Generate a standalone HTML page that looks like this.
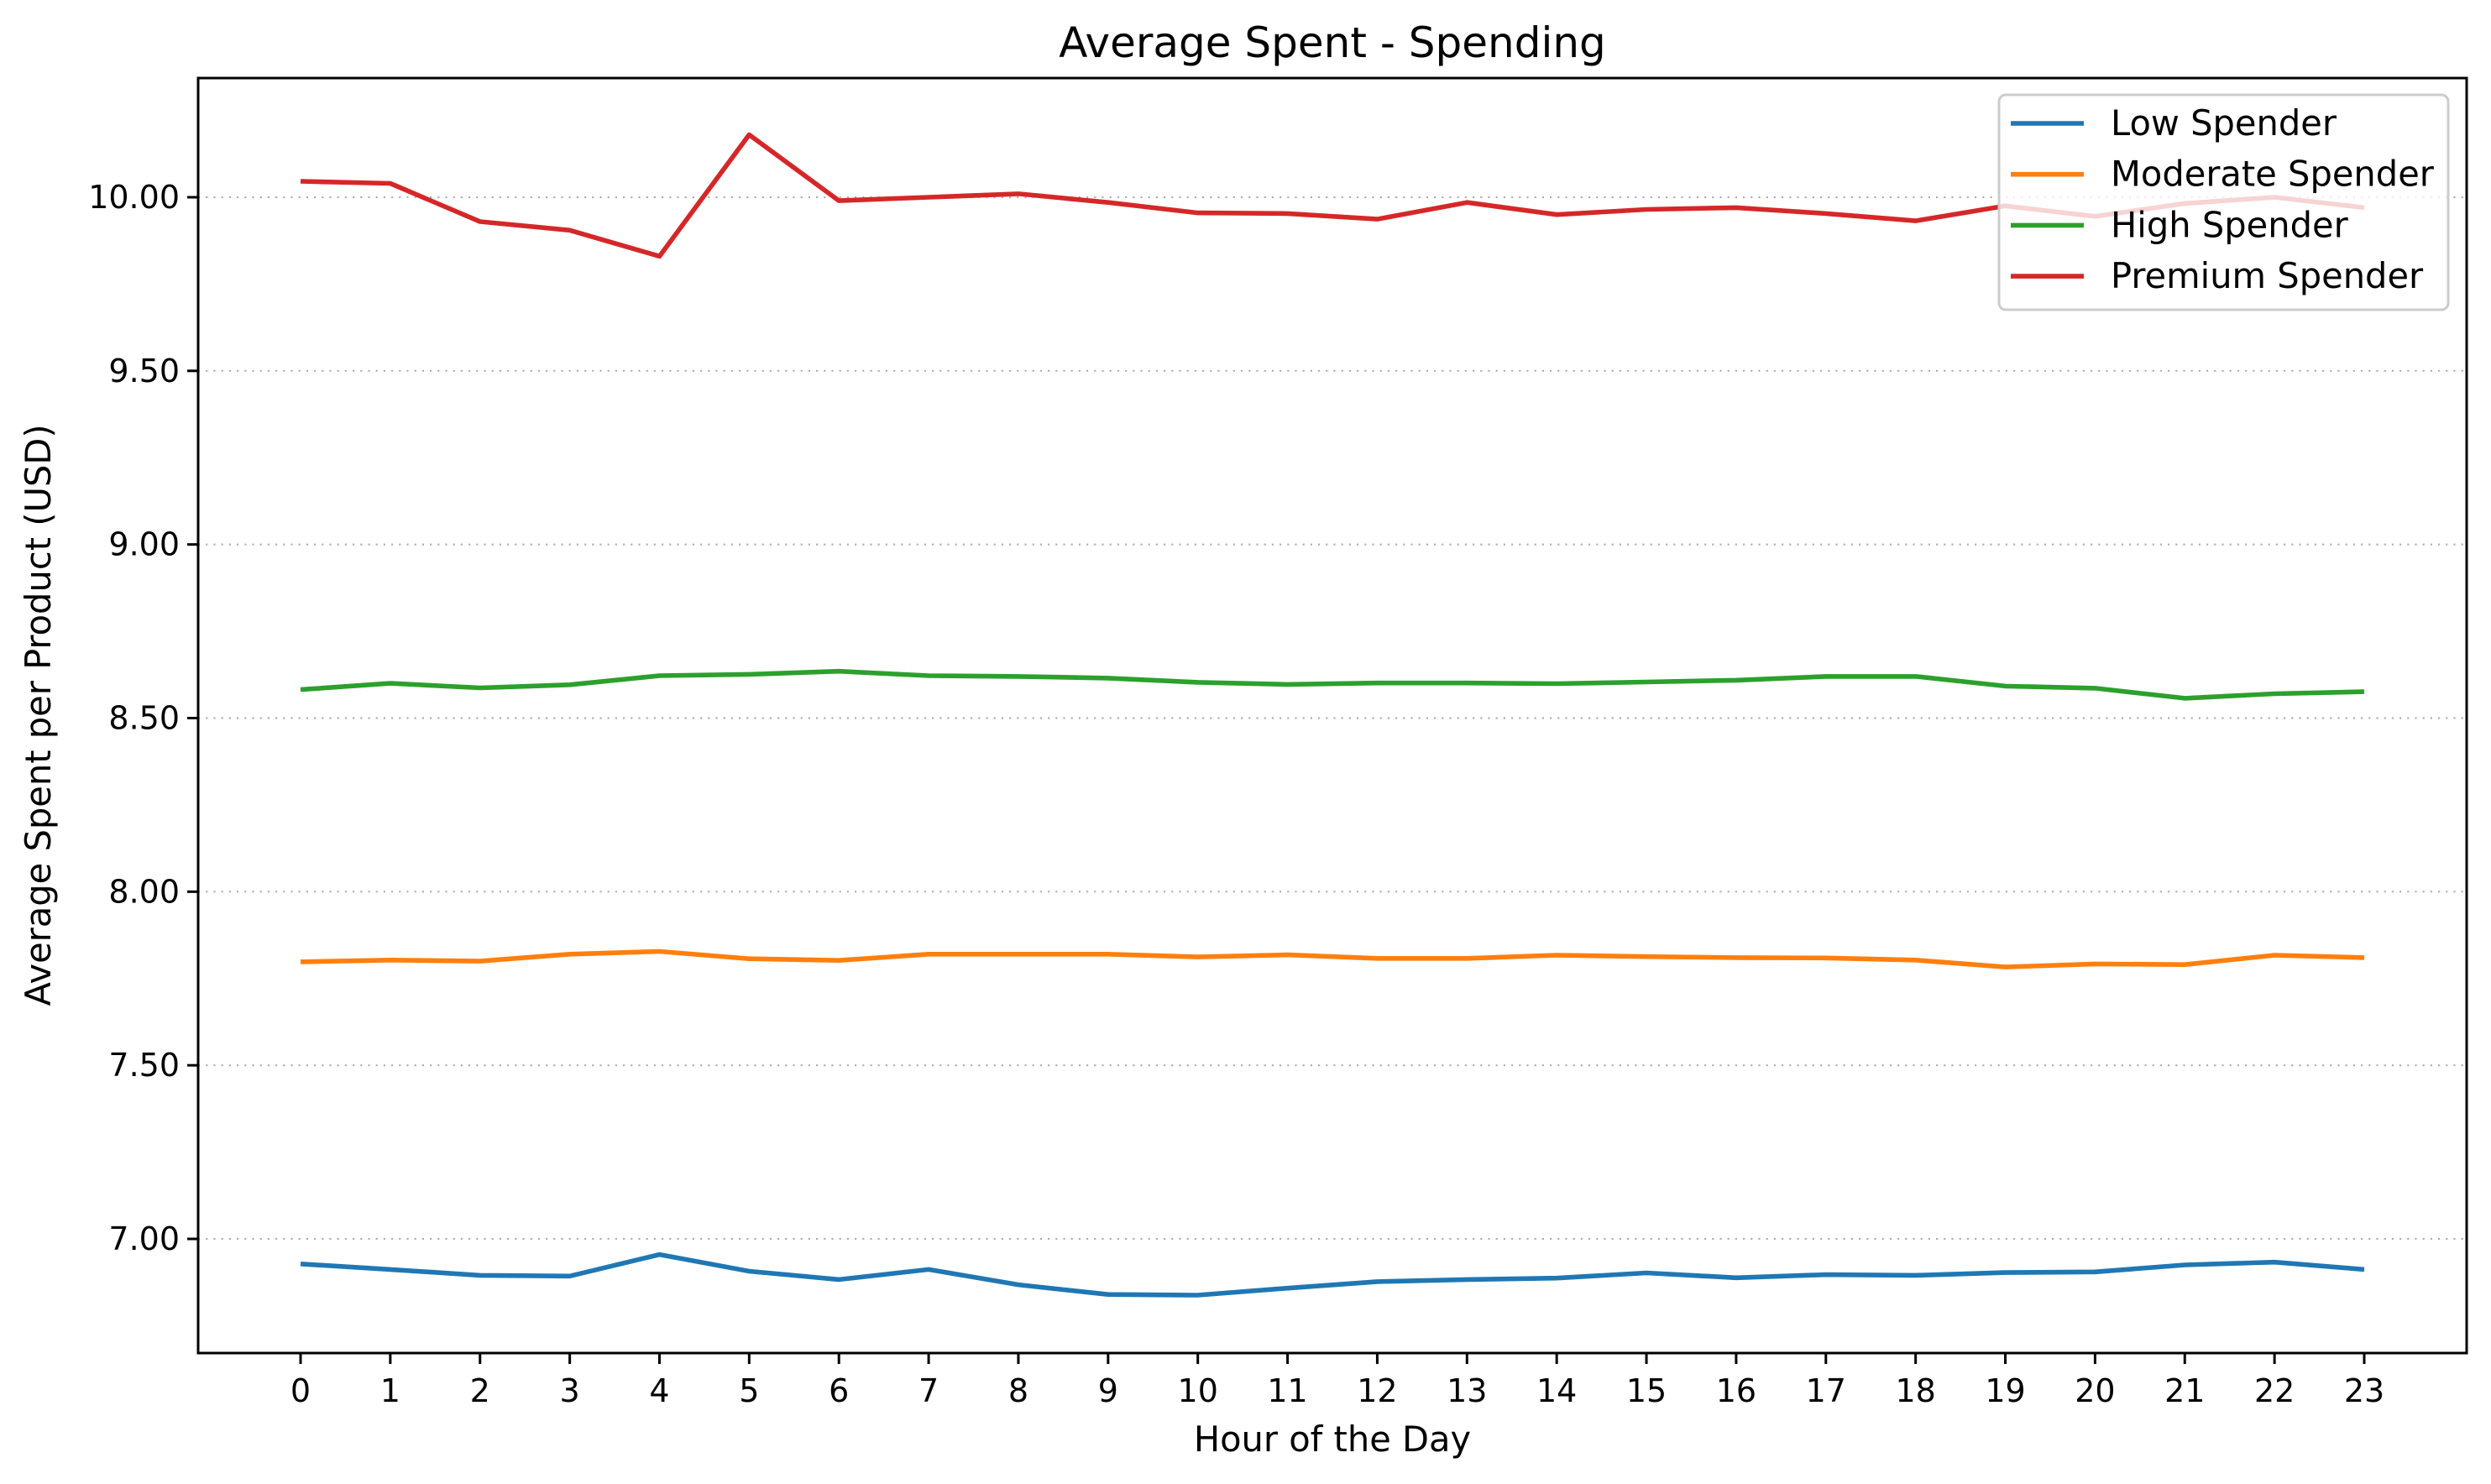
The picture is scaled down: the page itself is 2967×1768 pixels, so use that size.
<!DOCTYPE html>
<html><head><meta charset="utf-8"><style>
html,body{margin:0;padding:0;background:#fff;}
svg{display:block;font-family:"DejaVu Sans","Liberation Sans",sans-serif;}
</style></head><body>
<svg id="chart" width="2967" height="1768" viewBox="0 0 2967 1768" xmlns="http://www.w3.org/2000/svg">
<rect width="2967" height="1768" fill="#fff"/>
<text x="1587" y="68" font-size="50" text-anchor="middle">Average Spent - Spending</text>
<text x="1587" y="1729" font-size="41.6" text-anchor="middle">Hour of the Day</text>
<text transform="translate(60,852) rotate(-90)" font-size="41.6" text-anchor="middle">Average Spent per Product (USD)</text>
<g id="grid"></g><g id="series"></g><g id="axes"></g><g id="legend"></g>
</svg>
<script>
const hours=[0,1,2,3,4,5,6,7,8,9,10,11,12,13,14,15,16,17,18,19,20,21,22,23];
const seriesNames=["Low Spender","Moderate Spender","High Spender","Premium Spender"];
const seriesColors=["#1f77b4","#ff7f0e","#2ca02c","#d62728"];
const lowValues=[6.928,6.912,6.895,6.893,6.955,6.907,6.883,6.912,6.868,6.840,6.838,6.858,6.877,6.883,6.887,6.902,6.888,6.897,6.895,6.903,6.905,6.925,6.933,6.912];
const moderateValues=[7.798,7.803,7.800,7.820,7.828,7.807,7.802,7.820,7.820,7.820,7.812,7.818,7.808,7.808,7.817,7.813,7.810,7.809,7.803,7.783,7.792,7.790,7.817,7.810];
const highValues=[8.582,8.600,8.587,8.596,8.622,8.626,8.635,8.622,8.620,8.615,8.603,8.597,8.601,8.601,8.599,8.604,8.609,8.620,8.620,8.592,8.586,8.557,8.570,8.576];
const premiumValues=[10.046,10.040,9.930,9.905,9.830,10.180,9.990,10.000,10.010,9.985,9.955,9.953,9.937,9.985,9.950,9.965,9.970,9.953,9.932,9.975,9.945,9.982,10.000,9.970];
const yTicks=[7.0,7.5,8.0,8.5,9.0,9.5,10.0];
const yTickLabels=["7.00","7.50","8.00","8.50","9.00","9.50","10.00"];

const NS="http://www.w3.org/2000/svg";
const L=236,R=2938,T=93,B=1612;
function xs(v){return 358+(v-0)*(2816-358)/23;}
function ys(v){return 1476-(v-7)*(1476-235)/3;}
function mk(tag,attrs,parent){const e=document.createElementNS(NS,tag);for(const k in attrs)e.setAttribute(k,attrs[k]);parent.appendChild(e);return e;}
const grid=document.getElementById('grid'),axes=document.getElementById('axes'),ser=document.getElementById('series'),leg=document.getElementById('legend');
yTicks.forEach((t,i)=>{
  const y=ys(t);
  const g=mk('line',{x1:L,x2:R,y1:y,y2:y,stroke:'#b0b0b0','stroke-width':2.2,'stroke-dasharray':'2.2 7'},grid);
  
  
  const tk=mk('line',{x1:L-13,x2:L,y1:y,y2:y,stroke:'#000','stroke-width':3},axes);
  
  
  const tx=mk('text',{x:L-22,y:y+13,'font-size':38,'text-anchor':'end'},axes);
  tx.textContent=yTickLabels[i];
  
  
});
hours.forEach(h=>{
  const x=xs(h);
  const tk=mk('line',{x1:x,x2:x,y1:B,y2:B+13,stroke:'#000','stroke-width':3},axes);
  
  
  const tx=mk('text',{x:x,y:B+58,'font-size':38,'text-anchor':'middle'},axes);
  tx.textContent=String(h);
  
  
});
const frame=mk('rect',{x:L,y:T,width:R-L,height:B-T,fill:'none',stroke:'#000','stroke-width':3},axes);


const allValues=[lowValues,moderateValues,highValues,premiumValues];
const seriesKeys=["low","moderate","high","premium"];
allValues.forEach((vals,si)=>{
  const pts=vals.map((v,i)=>xs(hours[i]).toFixed(1)+','+ys(v).toFixed(1)).join(' ');
  const p=mk('polyline',{points:pts,fill:'none',stroke:seriesColors[si],'stroke-width':5.6,'stroke-linejoin':'round'},ser);
  
  
});
const box=mk('rect',{x:2381,y:113,width:535,height:256,rx:8,fill:'#fff','fill-opacity':0.8,stroke:'#cccccc','stroke-width':3},leg);


seriesNames.forEach((n,i)=>{
  const y=147+i*60.7;
  const ln=mk('line',{x1:2395,x2:2482,y1:y,y2:y,stroke:seriesColors[i],'stroke-width':5.6},leg);
  
  
  const t=mk('text',{x:2514,y:y+14,'font-size':41.6},leg);
  t.textContent=n;
  
  
});
</script>
</body></html>
